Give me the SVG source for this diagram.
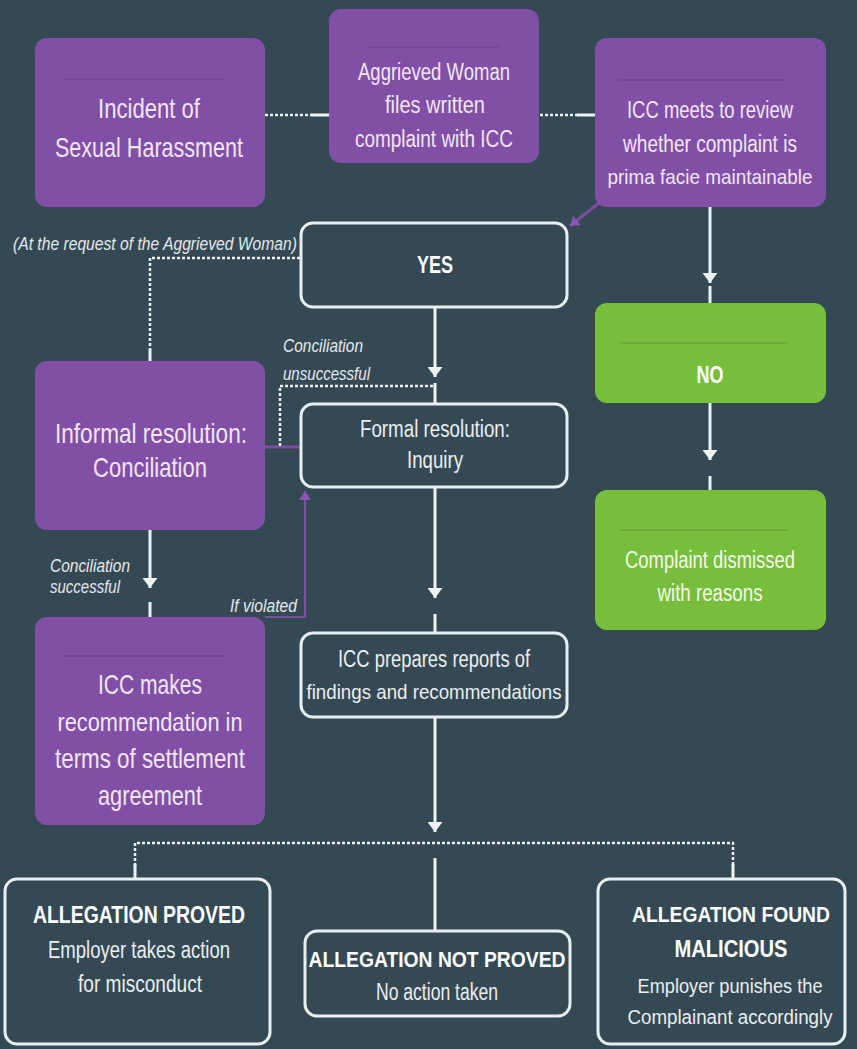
<svg xmlns="http://www.w3.org/2000/svg" width="857" height="1049" viewBox="0 0 857 1049">
<defs>
<style>
.bg{fill:#354955}
.pbox{fill:#8150a6}
.gbox{fill:#78be3d}
.wbox{fill:#354955;stroke:#e9eef0;stroke-width:3}
.sep{stroke:#000;stroke-opacity:0.13;stroke-width:1.5}
text{font-family:"Liberation Sans",Arial,sans-serif;text-anchor:middle}
.pt{fill:#f1e6f7;font-size:28px}
.pm{fill:#f1e6f7;font-size:23px}
.wt{fill:#e9eef0;font-size:23px}
.gt{fill:#f3fae9;font-size:23px}
.bt{fill:#ffffff;font-size:24px;font-weight:bold}
.lab{fill:#e3e8ea;font-size:19px;font-style:italic;text-anchor:start}
.solid{stroke:#eef2f3;stroke-width:3;fill:none}
.dot{stroke:#eef2f3;stroke-width:2.5;fill:none;stroke-dasharray:3 2}
.purp{stroke:#7d4ca2;stroke-width:3;fill:none}
.purp2{stroke:#7a52a0;stroke-width:2.2;fill:none}
</style>
<marker id="ah" markerUnits="userSpaceOnUse" markerWidth="10" markerHeight="15" viewBox="0 0 10 15" refX="10" refY="7.5" orient="auto">
<path d="M0,0 L10,7.5 L0,15 Z" fill="#eef2f3"/>
</marker>
<marker id="ahp" markerUnits="userSpaceOnUse" markerWidth="9" markerHeight="12" viewBox="0 0 9 12" refX="9" refY="6" orient="auto">
<path d="M0,0 L9,6 L0,12 Z" fill="#8a55b3"/>
</marker>
</defs>
<rect class="bg" x="0" y="0" width="857" height="1049"/>

<g id="connectors">
<line class="dot" x1="265" y1="115" x2="312" y2="115"/>
<line class="solid" x1="311" y1="115" x2="330" y2="115"/>
<line class="dot" x1="540" y1="115" x2="578" y2="115"/>
<line class="solid" x1="577" y1="115" x2="597" y2="115"/>
<line class="purp" x1="600" y1="202" x2="570" y2="226" marker-end="url(#ahp)"/>
<line class="solid" x1="710" y1="207" x2="710" y2="283" marker-end="url(#ah)"/>
<line class="solid" x1="710" y1="286" x2="710" y2="304"/>
<line class="solid" x1="710" y1="402" x2="710" y2="460" marker-end="url(#ah)"/>
<line class="solid" x1="710" y1="476" x2="710" y2="491"/>
<path class="dot" d="M300,258 H150 V350"/>
<line class="solid" x1="150" y1="349" x2="150" y2="362"/>
<line class="solid" x1="435" y1="307" x2="435" y2="377" marker-end="url(#ah)"/>
<line class="solid" x1="435" y1="383" x2="435" y2="404"/>
<line class="purp" x1="265" y1="447" x2="301" y2="447"/>
<path class="dot" d="M280,446 V386 H433"/>
<line class="solid" x1="150" y1="530" x2="150" y2="588" marker-end="url(#ah)"/>
<line class="solid" x1="150" y1="602" x2="150" y2="618"/>
<path class="purp2" d="M265,617 H305 V491" marker-end="url(#ahp)"/>
<line class="solid" x1="435" y1="488" x2="435" y2="598" marker-end="url(#ah)"/>
<line class="solid" x1="435" y1="614" x2="435" y2="634"/>
<line class="solid" x1="435" y1="717" x2="435" y2="832" marker-end="url(#ah)"/>
<path class="dot" d="M135,866 V843 H733 V866"/>
<line class="solid" x1="135" y1="864" x2="135" y2="879"/>
<line class="solid" x1="733" y1="864" x2="733" y2="879"/>
<line class="solid" x1="435" y1="858" x2="435" y2="931"/>
</g>

<g id="incident">
<rect class="pbox" x="35" y="38" width="230" height="169" rx="12"/>
<line class="sep" x1="63" y1="79" x2="225" y2="79"/>
<text class="pt" x="149" y="118" textLength="102" lengthAdjust="spacingAndGlyphs">Incident of</text>
<text class="pt" x="149" y="157" textLength="188" lengthAdjust="spacingAndGlyphs">Sexual Harassment</text>
</g>

<g id="complaint">
<rect class="pbox" x="329" y="9" width="210" height="154" rx="12"/>
<line class="sep" x1="368" y1="47" x2="498" y2="47"/>
<text class="pm" x="434" y="80" textLength="152" lengthAdjust="spacingAndGlyphs">Aggrieved Woman</text>
<text class="pm" x="435" y="113" textLength="100" lengthAdjust="spacingAndGlyphs">files written</text>
<text class="pm" x="434" y="147" textLength="158" lengthAdjust="spacingAndGlyphs">complaint with ICC</text>
</g>

<g id="review">
<rect class="pbox" x="595" y="38" width="231" height="169" rx="12"/>
<line class="sep" x1="618" y1="80" x2="787" y2="80"/>
<text class="pm" x="710" y="118" textLength="166" lengthAdjust="spacingAndGlyphs">ICC meets to review</text>
<text class="pm" x="710" y="152" textLength="174" lengthAdjust="spacingAndGlyphs">whether complaint is</text>
<text class="pm" x="710" y="184" style="font-size:21px" textLength="205" lengthAdjust="spacingAndGlyphs">prima facie maintainable</text>
</g>

<g id="yes">
<rect class="wbox" x="301" y="223" width="266" height="84" rx="12"/>
<text class="bt" x="435" y="273" textLength="36" lengthAdjust="spacingAndGlyphs">YES</text>
</g>

<g id="no">
<rect class="gbox" x="595" y="303" width="231" height="100" rx="12"/>
<line class="sep" x1="620" y1="343" x2="787" y2="343"/>
<text class="bt" x="710" y="383" textLength="27" lengthAdjust="spacingAndGlyphs">NO</text>
</g>

<g id="dismissed">
<rect class="gbox" x="595" y="490" width="231" height="140" rx="12"/>
<line class="sep" x1="620" y1="530" x2="787" y2="530"/>
<text class="gt" x="710" y="568" textLength="170" lengthAdjust="spacingAndGlyphs">Complaint dismissed</text>
<text class="gt" x="710" y="601" textLength="105" lengthAdjust="spacingAndGlyphs">with reasons</text>
</g>

<g id="informal">
<rect class="pbox" x="35" y="361" width="230" height="169" rx="12"/>
<text class="pt" x="151" y="443" textLength="192" lengthAdjust="spacingAndGlyphs">Informal resolution:</text>
<text class="pt" x="150" y="477" textLength="114" lengthAdjust="spacingAndGlyphs">Conciliation</text>
</g>

<g id="formal">
<rect class="wbox" x="301" y="404" width="266" height="83" rx="12"/>
<text class="wt" x="435" y="437" textLength="150" lengthAdjust="spacingAndGlyphs">Formal resolution:</text>
<text class="wt" x="435" y="468" textLength="56" lengthAdjust="spacingAndGlyphs">Inquiry</text>
</g>

<g id="settlement">
<rect class="pbox" x="35" y="617" width="230" height="208" rx="12"/>
<line class="sep" x1="63" y1="656" x2="225" y2="656"/>
<text class="pt" x="150" y="694" textLength="104" lengthAdjust="spacingAndGlyphs">ICC makes</text>
<text class="pt" x="150" y="731" style="font-size:26px" textLength="185" lengthAdjust="spacingAndGlyphs">recommendation in</text>
<text class="pt" x="150" y="768" textLength="190" lengthAdjust="spacingAndGlyphs">terms of settlement</text>
<text class="pt" x="150" y="805" textLength="104" lengthAdjust="spacingAndGlyphs">agreement</text>
</g>

<g id="report">
<rect class="wbox" x="301" y="633" width="266" height="84" rx="12"/>
<text class="wt" x="434" y="667" textLength="192" lengthAdjust="spacingAndGlyphs">ICC prepares reports of</text>
<text class="wt" x="434" y="699" style="font-size:21px" textLength="255" lengthAdjust="spacingAndGlyphs">findings and recommendations</text>
</g>

<g id="proved">
<rect class="wbox" x="5" y="879" width="265" height="165" rx="12"/>
<text class="bt" x="139" y="923" textLength="212" lengthAdjust="spacingAndGlyphs">ALLEGATION PROVED</text>
<text class="wt" x="139" y="958" textLength="182" lengthAdjust="spacingAndGlyphs">Employer takes action</text>
<text class="wt" x="140" y="992" textLength="124" lengthAdjust="spacingAndGlyphs">for misconduct</text>
</g>

<g id="notproved">
<rect class="wbox" x="305" y="931" width="265" height="85" rx="12"/>
<text class="bt" x="437" y="967" style="font-size:22px" textLength="257" lengthAdjust="spacingAndGlyphs">ALLEGATION NOT PROVED</text>
<text class="wt" x="437" y="1000" textLength="122" lengthAdjust="spacingAndGlyphs">No action taken</text>
</g>

<g id="malicious">
<rect class="wbox" x="598" y="879" width="247" height="165" rx="12"/>
<text class="bt" x="731" y="922" style="font-size:22px" textLength="198" lengthAdjust="spacingAndGlyphs">ALLEGATION FOUND</text>
<text class="bt" x="731" y="957" textLength="113" lengthAdjust="spacingAndGlyphs">MALICIOUS</text>
<text class="wt" x="730" y="993" style="font-size:21px" textLength="185" lengthAdjust="spacingAndGlyphs">Employer punishes the</text>
<text class="wt" x="730" y="1024" style="font-size:20px" textLength="205" lengthAdjust="spacingAndGlyphs">Complainant accordingly</text>
</g>

<g id="labels">
<text class="lab" x="13" y="250" textLength="284" lengthAdjust="spacingAndGlyphs">(At the request of the Aggrieved Woman)</text>
<text class="lab" x="283" y="352" textLength="80" lengthAdjust="spacingAndGlyphs">Conciliation</text>
<text class="lab" x="283" y="380" textLength="87" lengthAdjust="spacingAndGlyphs">unsuccessful</text>
<text class="lab" x="50" y="572" style="font-size:18px" textLength="80" lengthAdjust="spacingAndGlyphs">Conciliation</text>
<text class="lab" x="50" y="593" style="font-size:18px" textLength="70" lengthAdjust="spacingAndGlyphs">successful</text>
<text class="lab" x="230" y="612" textLength="67" lengthAdjust="spacingAndGlyphs">If violated</text>
</g>
</svg>
